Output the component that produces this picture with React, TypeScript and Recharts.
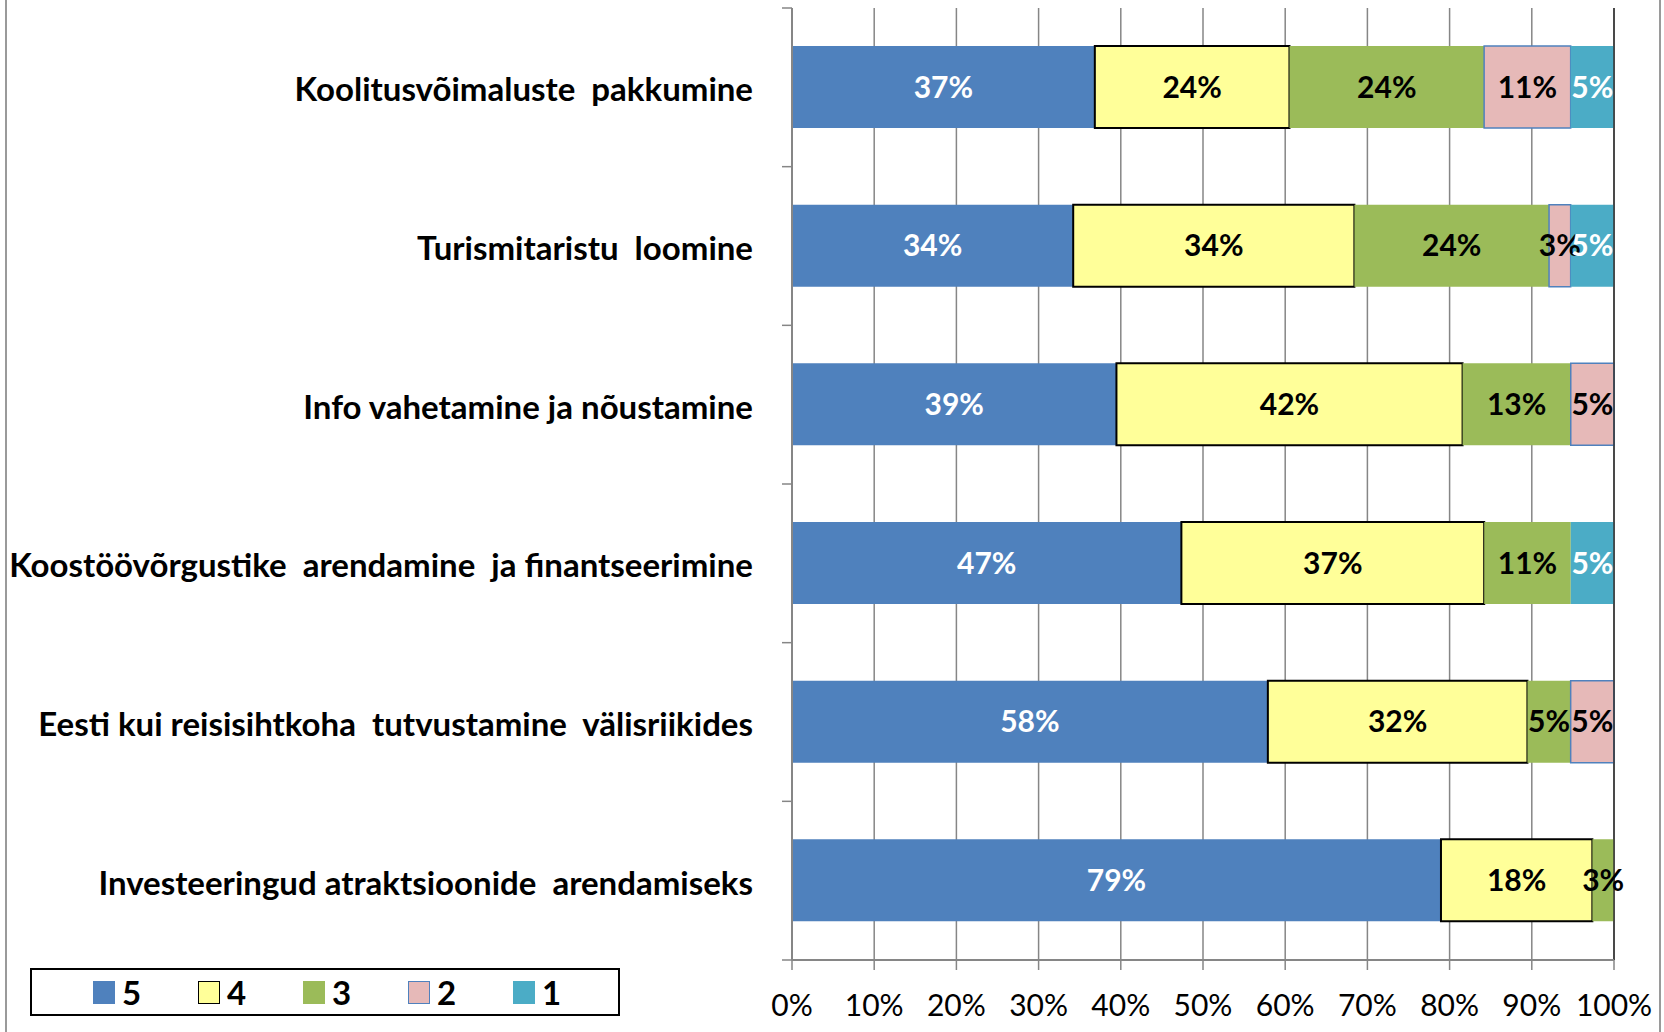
import React from 'react';
import {
  BarChart,
  Bar,
  XAxis,
  YAxis,
  CartesianGrid,
  LabelList,
  ReferenceLine,
} from 'recharts';

const categories = [
  'Koolitusvõimaluste  pakkumine',
  'Turismitaristu  loomine',
  'Info vahetamine ja nõustamine',
  'Koostöövõrgustike  arendamine  ja finantseerimine',
  'Eesti kui reisisihtkoha  tutvustamine  välisriikides',
  'Investeeringud atraktsioonide  arendamiseks',
];

// share of answers per score (5 = best)
const score5 = [36.84, 34.21, 39.47, 47.37, 57.89, 78.95];
const score4 = [23.68, 34.21, 42.11, 36.84, 31.58, 18.42];
const score3 = [23.68, 23.68, 13.16, 10.53, 5.26, 2.63];
const score2 = [10.53, 2.63, 5.26, 0, 5.26, 0];
const score1 = [5.26, 5.26, 0, 5.26, 0, 0];

const xTicks = [0, 10, 20, 30, 40, 50, 60, 70, 80, 90, 100];

const legendItems = [
  { label: '5', fill: '#4F81BD', stroke: 'none' },
  { label: '4', fill: '#FFFF99', stroke: '#000000' },
  { label: '3', fill: '#9BBB59', stroke: 'none' },
  { label: '2', fill: '#E6B9B8', stroke: '#4F81BD' },
  { label: '1', fill: '#4BACC6', stroke: 'none' },
];

const W = 1664;
const H = 1032;
const TOP = 8;
const X_AXIS_H = 72;
const Y_AXIS_W = 792;
const RIGHT = 50;
const FONT = 'Lato, "Open Sans", sans-serif';

const data = categories.map((name, i) => ({
  name,
  s5: score5[i],
  s4: score4[i],
  s3: score3[i],
  s2: score2[i],
  s1: score1[i],
}));

const band = (H - TOP - X_AXIS_H) / categories.length;

const pct = (v: any) => (v ? `${Math.round(Number(v))}%` : '');

function CatTick(props: any) {
  const { x, y, payload, index } = props;
  return (
    <g>
      <line x1={x - 10} x2={x} y1={y - band / 2} y2={y - band / 2} stroke="#868686" strokeWidth={1.5} />
      {index === categories.length - 1 && (
        <line x1={x - 10} x2={x} y1={y + band / 2} y2={y + band / 2} stroke="#868686" strokeWidth={1.5} />
      )}
      <text
        x={x - 39}
        y={y + 1}
        textAnchor="end"
        dominantBaseline="central"
        fontFamily={FONT}
        fontWeight="bold"
        fontSize={33}
        fill="#000"
        style={{ whiteSpace: 'pre' }}
      >
        {payload.value}
      </text>
    </g>
  );
}

export default function App() {
  const labelStyle = { fontFamily: FONT, fontWeight: 'bold' as const, fontSize: 30 };
  return (
    <div
      style={{
        position: 'absolute',
        left: 0,
        top: 0,
        width: W,
        height: H,
        background: '#fff',
        fontFamily: FONT,
      }}
    >
      <div style={{ position: 'absolute', left: 5, top: 0, width: 2, height: H, background: '#9a9a9a' }} />
      <div style={{ position: 'absolute', left: 1659, top: 0, width: 2, height: H, background: '#9a9a9a' }} />
      <BarChart
        width={W}
        height={H}
        data={data}
        layout="vertical"
        margin={{ top: TOP, right: RIGHT, bottom: 0, left: 0 }}
        barSize={82}
      >
        <CartesianGrid horizontal={false} stroke="#868686" strokeWidth={1.5} />
        <XAxis
          type="number"
          domain={[0, 100]}
          ticks={xTicks}
          tickFormatter={(v) => `${v}%`}
          height={X_AXIS_H}
          axisLine={{ stroke: '#868686', strokeWidth: 2 }}
          tickLine={{ stroke: '#868686', strokeWidth: 1.5 }}
          tickSize={10}
          tickMargin={25}
          tick={{ fill: '#000', fontSize: 30, fontFamily: FONT }}
          interval={0}
        />
        <XAxis
          xAxisId="top"
          orientation="top"
          type="number"
          domain={[0, 100]}
          height={0}
          tick={false}
          tickLine={false}
          axisLine={{ stroke: '#555', strokeWidth: 1.5 }}
        />
        <YAxis
          type="category"
          dataKey="name"
          width={Y_AXIS_W}
          axisLine={{ stroke: '#868686', strokeWidth: 2 }}
          tickLine={false}
          tickSize={0}
          tickMargin={0}
          interval={0}
          tick={<CatTick />}
        />
        <Bar dataKey="s5" name="5" stackId="a" fill="#4F81BD" isAnimationActive={false}>
          <LabelList dataKey="s5" position="center" formatter={pct} fill="#fff" style={labelStyle} />
        </Bar>
        <Bar dataKey="s4" name="4" stackId="a" fill="#FFFF99" stroke="#000" strokeWidth={2} isAnimationActive={false}>
          <LabelList dataKey="s4" position="center" formatter={pct} fill="#000" stroke="none" style={labelStyle} />
        </Bar>
        <Bar dataKey="s3" name="3" stackId="a" fill="#9BBB59" isAnimationActive={false}>
          <LabelList dataKey="s3" position="center" formatter={pct} fill="#000" style={labelStyle} />
        </Bar>
        <Bar dataKey="s2" name="2" stackId="a" fill="#E6B9B8" stroke="#4F81BD" strokeWidth={1.5} isAnimationActive={false}>
          <LabelList dataKey="s2" position="center" formatter={pct} fill="#000" stroke="none" style={labelStyle} />
        </Bar>
        <Bar dataKey="s1" name="1" stackId="a" fill="#4BACC6" isAnimationActive={false}>
          <LabelList dataKey="s1" position="center" formatter={pct} fill="#fff" style={labelStyle} />
        </Bar>
        <ReferenceLine x={100} stroke="#333" strokeWidth={1.5} />
      </BarChart>
      <div
        style={{
          position: 'absolute',
          left: 30,
          top: 968,
          width: 590,
          height: 48,
          border: '2px solid #000',
          display: 'flex',
          alignItems: 'center',
          paddingLeft: 61,
          boxSizing: 'border-box',
        }}
      >
        {legendItems.map((it) => (
          <div key={it.label} style={{ display: 'flex', alignItems: 'center', width: 108 }}>
            <div
              style={{
                width: 22,
                height: 23,
                background: it.fill,
                border: it.stroke === 'none' ? 'none' : `1.5px solid ${it.stroke}`,
                boxSizing: 'border-box',
                marginRight: 7,
              }}
            />
            <span style={{ fontWeight: 'bold', fontSize: 33, lineHeight: 1 }}>{it.label}</span>
          </div>
        ))}
      </div>
    </div>
  );
}
